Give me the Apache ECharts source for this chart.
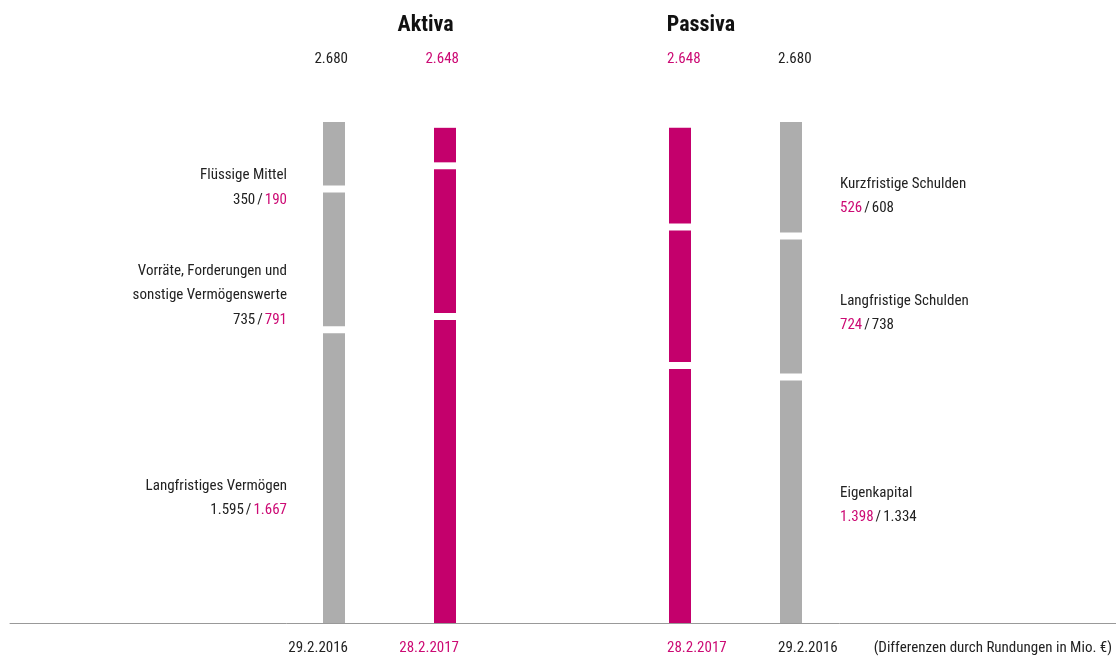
<!DOCTYPE html>
<html>
<head>
<meta charset="utf-8">
<script src="https://cdn.jsdelivr.net/npm/echarts@6/dist/echarts.min.js"></script>
<style>html,body{margin:0;padding:0;background:#fff}#c{width:1116px;height:659px}</style>
</head>
<body>
<div id="c"></div>
<script>
// ---- data ----
const aktivaDates = ['29.2.2016', '28.2.2017'];
const passivaDates = ['28.2.2017', '29.2.2016'];
const aktivaNames = ['Langfristiges Vermögen', 'Vorräte, Forderungen und\nsonstige Vermögenswerte', 'Flüssige Mittel'];
const langfristigesVermoegen = [1595, 1667];
const vorraete = [735, 791];
const fluessigeMittel = [350, 190];
const passivaNames = ['Eigenkapital', 'Langfristige Schulden', 'Kurzfristige Schulden'];
const eigenkapital = [1398, 1334];
const langfristigeSchulden = [724, 738];
const kurzfristigeSchulden = [526, 608];
const titles = ['Aktiva', 'Passiva'];
const footnote = '(Differenzen durch Rundungen in Mio. €)';

// ---- styles ----
const FONT = "'Roboto Condensed', 'Fira Sans Condensed', 'DejaVu Sans Condensed', sans-serif";
const FS = 15;
const GRAY = '#adadad';
const MAG = '#c4006c';
const MAGT = '#cc0a74';
const DARK = '#222222';
const GAP = 7;      // white gap between stacked segments (px)
const BAR_W = 22;   // bar width (px)

function fmt(v) { return String(v).replace(/\B(?=(\d{3})+(?!\d))/g, '.'); }

const aktivaSets = [langfristigesVermoegen, vorraete, fluessigeMittel];
const passivaSets = [eigenkapital, langfristigeSchulden, kurzfristigeSchulden];
const sum = (sets, i) => sets.reduce((a, s) => a + s[i], 0);
const aktivaTotals = aktivaDates.map((d, i) => fmt(sum(aktivaSets, i)));
const passivaTotals = passivaDates.map((d, i) => fmt(sum(passivaSets, i)));
const YMAX = Math.max(sum(aktivaSets, 0), sum(aktivaSets, 1), sum(passivaSets, 0), sum(passivaSets, 1));

const aktivaColors = [GRAY, MAG];
const passivaColors = [MAG, GRAY];

const tok = (c) => ({ color: c, fill: c, fontFamily: FONT, fontSize: FS });
const richBase = {
  d: tok(DARK),
  m: tok(MAGT),
  s: Object.assign(tok(DARK), { padding: [0, 2, 0, 2] })
};

// vertical offsets of side labels (px)
const aktivaLabelDy = [20, 36, 34];
const passivaLabelDy = [3.5, 6.5, 19];

function segSeries(name, vals, k, sets, gridIdx, xAxisIndex, colors, labelIdx, side, text, dy) {
  return {
    type: 'custom', name: name, xAxisIndex: xAxisIndex, yAxisIndex: gridIdx,
    encode: { x: 0, y: 1 },
    data: vals.map((v, i) => [i, v, sets.slice(0, k).reduce((a, s) => a + s[i], 0)]),
    renderItem: (params, api) => {
      const i = api.value(0), v = api.value(1), s0 = api.value(2);
      const pb = api.coord([i, s0]);
      const pt = api.coord([i, s0 + v]);
      const shift = k * GAP;
      const el = {
        type: 'rect',
        shape: { x: pb[0] - BAR_W / 2, y: pt[1] - shift, width: BAR_W, height: pb[1] - pt[1] },
        style: { fill: colors[i] }
      };
      if (i === labelIdx) {
        el.textContent = {
          style: {
            text: text, fill: DARK, fontFamily: FONT, fontSize: FS, lineHeight: 24.5,
            rich: richBase, align: side === 'left' ? 'right' : 'left', verticalAlign: 'middle'
          }
        };
        el.textConfig = { position: side, distance: side === 'left' ? 36 : 38, offset: [0, dy] };
      }
      return el;
    }
  };
}

const series = [];
aktivaSets.forEach((vals, k) => {
  const text = aktivaNames[k] + '\n{d|' + fmt(vals[0]) + '}{s|/}{m|' + fmt(vals[1]) + '}';
  series.push(segSeries(aktivaNames[k], vals, k, aktivaSets, 0, 0, aktivaColors, 0, 'left', text, aktivaLabelDy[k]));
});
passivaSets.forEach((vals, k) => {
  const text = passivaNames[k] + '\n{m|' + fmt(vals[0]) + '}{s|/}{d|' + fmt(vals[1]) + '}';
  series.push(segSeries(passivaNames[k], vals, k, passivaSets, 1, 2, passivaColors, 1, 'right', text, passivaLabelDy[k]));
});

function catAxis(grid, data, colors, pos, side, margin) {
  const w = side === 'r' ? 28 : 26;
  const al = side === 'r' ? 'right' : 'left';
  return {
    type: 'category', gridIndex: grid, data: data, position: pos,
    axisLine: { show: false }, axisTick: { show: false }, splitLine: { show: false },
    axisLabel: {
      show: true, margin: margin, interval: 0,
      formatter: (v, i) => '{' + (colors[i] === GRAY ? 'd' : 'm') + '|' + v + '}',
      rich: {
        d: { color: DARK, fontFamily: FONT, fontSize: FS, width: w, align: al },
        m: { color: MAGT, fontFamily: FONT, fontSize: FS, width: w, align: al }
      }
    }
  };
}

const option = {
  animation: false,
  backgroundColor: '#fff',
  title: [
    { text: titles[0], left: 425.5, top: 14, padding: 0, textAlign: 'center',
      textStyle: { fontFamily: FONT, fontSize: 22, fontWeight: 'bold', color: '#111' } },
    { text: titles[1], left: 701, top: 14, padding: 0, textAlign: 'center',
      textStyle: { fontFamily: FONT, fontSize: 22, fontWeight: 'bold', color: '#111' } },
    { text: footnote, right: 4, top: 641, padding: 0,
      textStyle: { fontFamily: FONT, fontSize: FS, fontWeight: 'normal', color: DARK } }
  ],
  grid: [
    { left: 278.5, right: 615.5, top: 136, bottom: 36 },
    { left: 624.5, right: 269.5, top: 136, bottom: 36 },
    { left: 10, right: 0, top: 560, bottom: 36 }
  ],
  xAxis: [
    catAxis(0, aktivaDates, aktivaColors, 'bottom', 'r', 17.5),
    catAxis(0, aktivaTotals, aktivaColors, 'top', 'r', 69.5),
    catAxis(1, passivaDates, passivaColors, 'bottom', 'l', 17.5),
    catAxis(1, passivaTotals, passivaColors, 'top', 'l', 69.5),
    { type: 'value', gridIndex: 2, min: 0, max: 1, z: 10,
      axisLine: { show: true, onZero: false, lineStyle: { color: '#999', width: 1 } },
      axisTick: { show: false }, axisLabel: { show: false }, splitLine: { show: false } }
  ],
  yAxis: [
    { type: 'value', gridIndex: 0, min: 0, max: YMAX, show: false },
    { type: 'value', gridIndex: 1, min: 0, max: YMAX, show: false },
    { type: 'value', gridIndex: 2, min: 0, max: 1, show: false }
  ],
  series: series
};

const chart = echarts.init(document.getElementById('c'), null, { renderer: 'canvas' });
chart.setOption(option);
</script>
</body>
</html>
